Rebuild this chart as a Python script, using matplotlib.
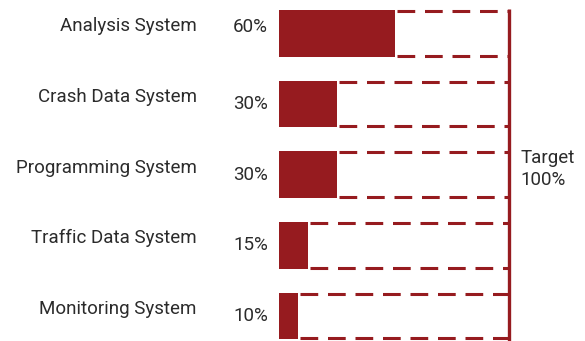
import matplotlib.pyplot as plt

# datos
systems = ['Analysis System', 'Crash Data System', 'Programming System',
           'Traffic Data System', 'Monitoring System']
progress = [60, 30, 30, 15, 10]
target_label = 'Target\n100%'
box_extent = 119  # ancho del recuadro de la meta en la escala de las barras

red = '#961B1F'
txt = '#2b2b2b'

plt.rcParams['font.family'] = ['Roboto', 'DejaVu Sans']

fig = plt.figure(figsize=(5.85, 3.41), dpi=100)
ax = fig.add_axes([279 / 585, 0, 230 / 585, 1])
ax.set_xlim(0, box_extent)
ax.set_ylim(4.355, -0.475)
ax.axis('off')

h = 0.66
for i in range(len(systems)):
    ax.barh(i, progress[i], height=h, color=red, zorder=3)
    # recuadro punteado hasta la meta
    for yy in (i - h / 2 + 0.015, i + h / 2 - 0.015):
        ax.plot([progress[i] + 1, box_extent], [yy, yy], color=red, lw=2.2,
                dashes=(5.8, 3.2), zorder=2, clip_on=False)
    ax.text(-42.5, i - 0.1, systems[i], ha='right', va='center',
            fontsize=13.5, color=txt, clip_on=False)
    dy = -0.09 if i == 0 else 0.0
    ax.text(-5.7, i + dy, f'{progress[i]}%', ha='right', va='center',
            fontsize=13.5, color=txt, clip_on=False)

ax.plot([box_extent, box_extent], [-0.35, 4.36], color=red, lw=2.4,
        zorder=4, clip_on=False, solid_capstyle='butt')
ax.text(box_extent + 6, 1.92, target_label, ha='left', va='center',
        fontsize=13.5, color=txt, linespacing=1.25, clip_on=False)

fig.savefig('out.png', dpi=100)
